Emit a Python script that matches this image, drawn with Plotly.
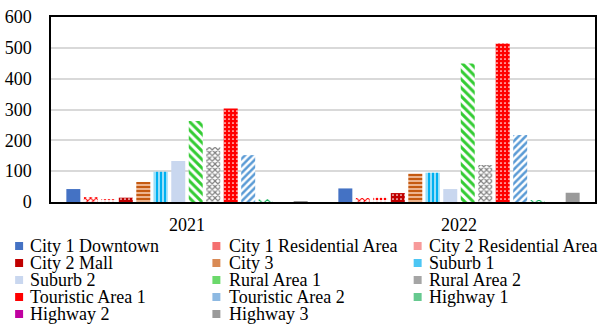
import plotly.graph_objects as go

# ---------------- data ----------------
years = ["2021", "2022"]
series_names = [
    "City 1 Downtown", "City 1 Residential Area", "City 2 Residential Area",
    "City 2 Mall", "City 3", "Suburb 1",
    "Suburb 2", "Rural Area 1", "Rural Area 2",
    "Touristic Area 1", "Touristic Area 2", "Highway 1",
    "Highway 2", "Highway 3",
]
values_2021 = [42, 16, 9, 14, 65, 98, 133, 263, 178, 303, 152, 9, 3, 2]
values_2022 = [44, 13, 17, 29, 92, 95, 42, 449, 120, 514, 217, 6, 3, 30]
y_tick_values = [0, 100, 200, 300, 400, 500, 600]

# ---------------- styles ----------------
# (shape, fg, bg, size, solidity, legend swatch colour)
styles = [
    ("", "#4472C4", "#4472C4", 6, 0.3, "#4472C4"),
    ("x", "#FF0000", "#FFFFFF", 4, 0.45, "#F47070"),
    (".", "#FF0000", "#FFFFFF", 4, 0.35, "#F79A9A"),
    (".", "#FFFFFF", "#C00000", 4, 0.15, "#C00000"),
    ("-", "#C55A11", "#F8CBAD", 4, 0.6, "#D98A55"),
    ("|", "#00B0F0", "#FFFFFF", 4, 0.7, "#4CC6F4"),
    ("", "#C9D7EF", "#C9D7EF", 6, 0.3, "#C9D7EF"),
    ("\\", "#33CC33", "#FFFFFF", 6, 0.5, "#6BD96B"),
    ("x", "#7F7F7F", "#FFFFFF", 4, 0.5, "#A5A5A5"),
    (".", "#FFFFFF", "#FF0000", 4, 0.15, "#FF0000"),
    ("/", "#5B9BD5", "#FFFFFF", 5, 0.5, "#8DB9E2"),
    ("x", "#00B050", "#FFFFFF", 6, 0.3, "#66C98F"),
    ("-", "#C000A0", "#FFFFFF", 4, 0.5, "#C000A0"),
    ("", "#9A9A9A", "#9A9A9A", 6, 0.3, "#9A9A9A"),
]

W, H = 598, 327
ML, MR, MT, MB = 51, 1, 17, 125
PW, PH = W - ML - MR, H - MT - MB
FONT = "Liberation Serif, Times New Roman, serif"

fig = go.Figure()
for i, name in enumerate(series_names):
    shape, fg, bg, size, sol, _ = styles[i]
    pattern = dict(shape=shape)
    if shape:
        pattern.update(fgcolor=fg, bgcolor=bg, size=size, solidity=sol, fillmode="replace")
    fig.add_trace(go.Bar(
        x=years, y=[values_2021[i], values_2022[i]], name=name,
        marker=dict(color=bg if shape else fg, pattern=pattern, line=dict(width=0)),
        showlegend=False,
    ))

# ---------------- custom legend (text as annotations) ----------------
def px_x(px):
    return (px - ML) / PW

def px_y(py):
    return (H - MB - py) / PH

col_sym_x = [15, 213, 415]
col_txt_x = [28, 228, 428]
row_y0, row_dy = 246, 17
shapes = []
annotations = []
for i, name in enumerate(series_names):
    r, c = divmod(i, 3)
    cy = row_y0 + r * row_dy
    sx = col_sym_x[c]
    shapes.append(dict(
        type="rect", xref="paper", yref="paper",
        x0=px_x(sx), x1=px_x(sx + 8), y0=px_y(cy - 4), y1=px_y(cy + 4),
        fillcolor=styles[i][5], line=dict(width=0),
    ))
    annotations.append(dict(
        text=name, xref="paper", yref="paper", x=px_x(col_txt_x[c]), y=px_y(cy),
        xanchor="left", yanchor="middle", showarrow=False,
        font=dict(family=FONT, size=18, color="#000000"),
    ))

fig.update_layout(
    width=W, height=H,
    margin=dict(l=ML, r=MR, t=MT, b=MB, pad=0),
    paper_bgcolor="#FFFFFF", plot_bgcolor="#FFFFFF",
    barmode="group", bargap=0.1, bargroupgap=0.2,
    font=dict(family=FONT, size=18, color="#000000"),
    shapes=shapes, annotations=annotations,
    showlegend=False,
)
fig.update_xaxes(
    showline=True, linecolor="#000000", linewidth=1.5, mirror=True,
    ticks="", showgrid=False, ticklabelstandoff=6,
)
fig.update_yaxes(
    range=[0, 600], tickvals=y_tick_values, showline=True, linecolor="#000000",
    linewidth=1.5, mirror=True, ticks="", showgrid=True, gridcolor="#D9D9D9",
    gridwidth=1.5, zeroline=False, ticklabelstandoff=14,
)

fig.write_html("out.html")
